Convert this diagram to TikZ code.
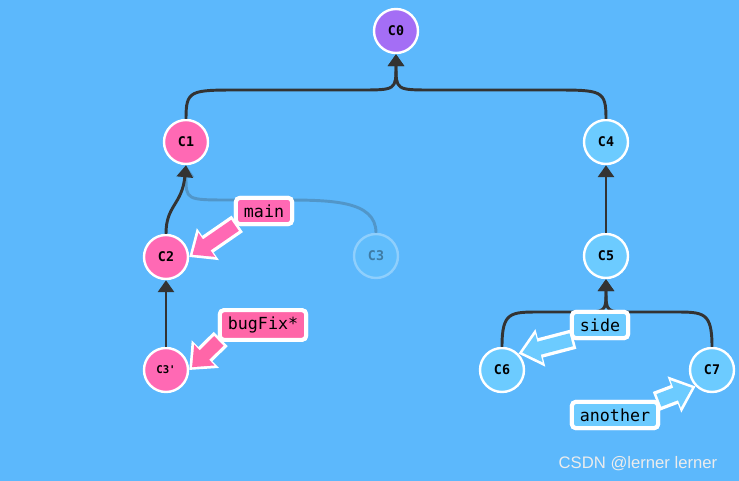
\documentclass[tikz,border=0pt]{standalone}
\usepackage{fontspec}
\setmonofont{DejaVu Sans Mono}
\setsansfont{Liberation Sans}
\usetikzlibrary{arrows.meta}
\definecolor{bg}{HTML}{5CB8FC}
\definecolor{pk}{HTML}{FF69B4}
\definecolor{pk2}{HTML}{FF66A8}
\definecolor{lb}{HTML}{6CCBFF}
\definecolor{pu}{HTML}{A46EF5}
\definecolor{ed}{HTML}{333333}
\tikzset{
 cnode/.style={circle,draw=white,line width=1.8pt,minimum size=33pt,inner sep=0pt,font=\ttfamily\bfseries\fontsize{10}{10}\selectfont},
 br/.style={rectangle,rounded corners=3pt,draw=white,line width=3pt,inner xsep=6pt,inner ysep=5pt,font=\ttfamily\fontsize{12.5}{12}\selectfont},
 ed/.style={draw=ed,line width=2.2pt,-{Triangle[length=9pt,width=12pt]}},
}
\newcommand{\brarrow}[3]{%
 \draw[white,line width=15pt,-{Triangle[length=17pt,width=28pt]},shorten >=0pt,shorten <=-3pt] (#1) -- (#2);
 \draw[#3,line width=10pt,-{Triangle[length=13pt,width=21pt]},shorten >=3pt,shorten <=-1pt] (#1) -- (#2);}
\begin{document}
\begin{tikzpicture}[x=0.75pt,y=-0.75pt]
\fill[bg] (0,0) rectangle (739,481);
\node[cnode,fill=pu] (c0) at (396,31) {C0};
\node[cnode,fill=pk] (c1) at (186,142) {C1};
\node[cnode,fill=lb] (c4) at (606,142) {C4};
\node[cnode,fill=pk] (c2) at (166,257) {C2};
\node[cnode,fill=lb,opacity=0.3,text opacity=0.35] (c3) at (376,256) {C3};
\node[cnode,fill=lb] (c5) at (606,256) {C5};
\node[cnode,fill=pk] (c3p) at (166,370) {\fontsize{8}{8}\selectfont C3'};
\node[cnode,fill=lb] (c6) at (502,370) {C6};
\node[cnode,fill=lb] (c7) at (712,370) {C7};
\draw[ed] (c1.north) .. controls (186,90) and (190,90) .. (240,90) -- (360,90) .. controls (396,90) .. (c0.south);
\draw[ed] (c4.north) .. controls (606,90) and (602,90) .. (552,90) -- (432,90) .. controls (396,90) .. (c0.south);
\draw[ed,opacity=0.25] (c3.north) .. controls (376,200) and (330,200) .. (280,200) -- (230,200) .. controls (186,200) .. (c1.south);
\draw[ed] (c2.north) .. controls (166,205) and (182,205) .. (c1.south);
\draw[ed] (c3p) -- (c2);
\draw[ed] (c5) -- (c4);
\draw[ed] (c6.north) .. controls (502,312) and (510,312) .. (540,312) -- (580,312) .. controls (606,312) .. (c5.south);
\draw[ed] (c7.north) .. controls (712,312) and (704,312) .. (674,312) -- (632,312) .. controls (606,312) .. (c5.south);
\node[br,fill=pk] (main) at (264,211) {main};
\node[br,fill=pk2] (bug) at (263,325) {bugFix*};
\node[br,fill=lb] (side) at (600,325) {side};
\node[br,fill=lb] (ano) at (615,415) {another};
\brarrow{main.south west}{c2.east}{pk}
\brarrow{bug.south west}{c3p.east}{pk2}
\brarrow{side.south west}{c6.north east}{lb}
\brarrow{ano.north east}{c7.south west}{lb}
\node[br,fill=pk] at (264,211) {main};
\node[br,fill=pk2] at (263,325) {bugFix*};
\node[br,fill=lb] at (600,325) {side};
\node[br,fill=lb] at (615,415) {another};
\node[font=\sffamily\fontsize{12.5}{12}\selectfont,text=white!85!gray] (wm) at (638,464) {CSDN @lerner lerner};
\end{tikzpicture}
\end{document}
